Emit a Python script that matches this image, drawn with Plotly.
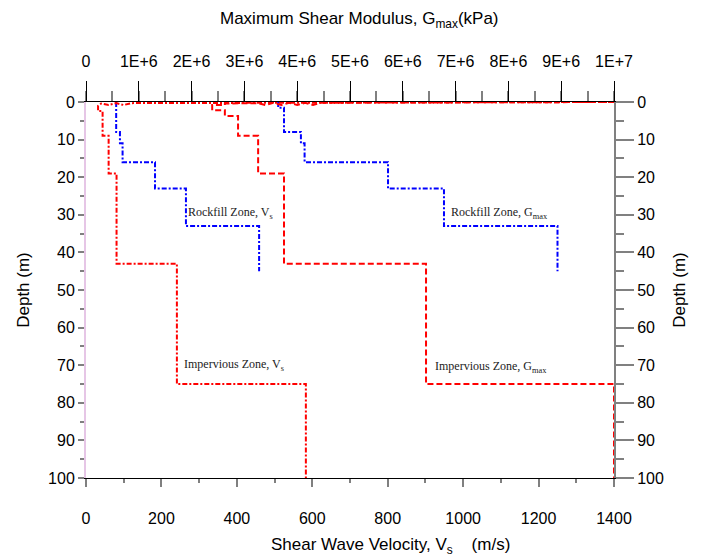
import plotly.graph_objects as go

# ---------------- data ----------------
# Rockfill zone, shear-wave velocity (m/s): layer top depths (m) and values
rockfill_vs_tops = [0, 8, 11, 16, 23, 33]
rockfill_vs_vals = [80, 90, 97, 183, 265, 459]
rockfill_vs_bottom = 45

# Rockfill zone, Gmax (kPa)
rockfill_g_tops = [0, 1.5, 8, 11, 16, 23, 33]
rockfill_g_vals = [3.64e6, 3.75e6, 4.07e6, 4.14e6, 5.72e6, 6.78e6, 8.93e6]
rockfill_g_bottom = 45

# Impervious zone, shear-wave velocity (m/s)
imp_vs_surface_v = [1400, 120, 100, 80, 60, 40]
imp_vs_surface_d = [0, 0.3, 0.8, 0.3, 0.8, 0.4]
imp_vs_tops = [1.0, 2.4, 9, 19, 43, 75]
imp_vs_vals = [32, 44, 60, 81, 241, 583]
imp_vs_bottom = 100

# Impervious zone, Gmax (kPa)
imp_g_surface_g = [1e7, 4.45e6, 4.3e6, 4.15e6, 4.0e6, 3.85e6, 3.7e6, 3.55e6, 3.4e6, 3.25e6, 2.63e6, 2.63e6]
imp_g_surface_d = [0, 0.2, 0.8, 0.2, 0.8, 0.2, 0.8, 0.2, 0.8, 0.3, 0.4, 0.8]
imp_g_tops = [0.8, 2.2, 3.7, 9, 19, 43, 75]
imp_g_vals = [2.39e6, 2.63e6, 2.88e6, 3.26e6, 3.75e6, 6.44e6, 1e7]
imp_g_bottom = 100

vs_ticks = [0, 200, 400, 600, 800, 1000, 1200, 1400]
g_ticks = [0, 1e6, 2e6, 3e6, 4e6, 5e6, 6e6, 7e6, 8e6, 9e6, 1e7]
g_ticktext = ["0", "1E+6", "2E+6", "3E+6", "4E+6", "5E+6", "6E+6", "7E+6", "8E+6", "9E+6", "1E+7"]
depth_ticks = [0, 10, 20, 30, 40, 50, 60, 70, 80, 90, 100]


def staircase(tops, vals, bottom):
    xs, ys = [], []
    for i, v in enumerate(vals):
        nxt = tops[i + 1] if i + 1 < len(tops) else bottom
        xs += [v, v]
        ys += [tops[i], nxt]
    return xs, ys


RED = "#ff0000"
BLUE = "#0000ff"
DASHDOT = "5px,2px,2px,2px"
DASH = "6px,3px"

fig = go.Figure()

x, y = staircase(rockfill_vs_tops, rockfill_vs_vals, rockfill_vs_bottom)
fig.add_trace(go.Scatter(x=x, y=y, mode="lines", xaxis="x", yaxis="y",
                         line=dict(color=BLUE, width=2, dash=DASHDOT)))

x, y = staircase(rockfill_g_tops, rockfill_g_vals, rockfill_g_bottom)
fig.add_trace(go.Scatter(x=x, y=y, mode="lines", xaxis="x2", yaxis="y",
                         line=dict(color=BLUE, width=2, dash=DASHDOT)))

x, y = staircase(imp_vs_tops, imp_vs_vals, imp_vs_bottom)
fig.add_trace(go.Scatter(x=imp_vs_surface_v + x, y=imp_vs_surface_d + y, mode="lines",
                         xaxis="x", yaxis="y",
                         line=dict(color=RED, width=2, dash=DASHDOT)))

x, y = staircase(imp_g_tops, imp_g_vals, imp_g_bottom)
fig.add_trace(go.Scatter(x=imp_g_surface_g + x, y=imp_g_surface_d + y, mode="lines",
                         xaxis="x2", yaxis="y",
                         line=dict(color=RED, width=2, dash=DASH)))

# right-hand depth axis carrier (no visible marks)
fig.add_trace(go.Scatter(x=[0, 0], y=[0, 100], mode="lines", xaxis="x", yaxis="y2",
                         line=dict(color="rgba(0,0,0,0)"), hoverinfo="skip"))

FONT = "Liberation Sans, Arial, sans-serif"
SERIF = "Liberation Serif, Times New Roman, serif"

fig.update_layout(
    width=705, height=556, autosize=False,
    margin=dict(l=86, r=91, t=102, b=78),
    paper_bgcolor="white", plot_bgcolor="white",
    showlegend=False,
    font=dict(family=FONT, size=16, color="black"),
    xaxis=dict(
        range=[0, 1400], tickvals=vs_ticks, showgrid=False, zeroline=False,
        showline=True, linecolor="black", linewidth=1, mirror=False,
        ticks="outside", ticklen=8, tickcolor="#808080", tickwidth=2,
        minor=dict(dtick=100, ticks="outside", ticklen=4, tickcolor="#808080"),
        ticklabelstandoff=18,
    ),
    xaxis2=dict(
        range=[0, 1e7], overlaying="x", side="top", anchor="y",
        tickvals=g_ticks, ticktext=g_ticktext, showgrid=False, zeroline=False,
        showline=True, linecolor="black", linewidth=1,
        ticks="outside", ticklen=20, tickcolor="black", tickwidth=1,
        minor=dict(dtick=5e5, ticks="outside", ticklen=10, tickcolor="#808080", tickwidth=2),
        ticklabelstandoff=8,
    ),
    yaxis=dict(
        range=[100, 0], tickvals=depth_ticks, showgrid=False, zeroline=False,
        showline=True, linecolor="#e6c6e6", linewidth=2,
        ticks="outside", ticklen=6, tickcolor="#808080", tickwidth=2,
        minor=dict(dtick=5, ticks="outside", ticklen=4, tickcolor="#808080"),
        title=dict(text="Depth (m)", font=dict(size=17), standoff=14),
    ),
    yaxis2=dict(
        range=[100, 0], overlaying="y", side="right", anchor="x",
        tickvals=depth_ticks, showgrid=False, zeroline=False,
        showline=True, linecolor="#808080", linewidth=2,
        ticks="outside", ticklen=18, tickcolor="#808080", tickwidth=2,
        minor=dict(dtick=5, ticks="outside", ticklen=8, tickcolor="#808080"),
        title=dict(text="Depth (m)", font=dict(size=17), standoff=10),
    ),
)

# axis titles for the horizontal axes (placed as in the reference)
fig.add_annotation(x=(390 - 86) / 528, y=(478 - 546) / 376, xref="paper", yref="paper",
                   text="Shear Wave Velocity, V<sub>s</sub>&nbsp;&nbsp;&nbsp;&nbsp;(m/s)", showarrow=False,
                   xanchor="center", yanchor="middle", font=dict(family=FONT, size=17))
fig.add_annotation(x=(359 - 86) / 528, y=1 + (102 - 20) / 376, xref="paper", yref="paper",
                   text="Maximum Shear Modulus, G<sub>max</sub>(kPa)", showarrow=False,
                   xanchor="center", yanchor="middle", font=dict(family=FONT, size=17))

ann_font = dict(family=SERIF, size=12, color="#222222")
for txt, xv, yv in [
    ("Rockfill Zone, V<sub>s</sub>", 265, 29.5),
    ("Rockfill Zone, G<sub>max</sub>", 962, 29.5),
    ("Impervious Zone, V<sub>s</sub>", 254, 70),
    ("Impervious Zone, G<sub>max</sub>", 920, 70.5),
]:
    fig.add_annotation(x=xv, y=yv, xref="x", yref="y", text=txt, showarrow=False,
                       xanchor="left", yanchor="middle", font=ann_font)

fig.write_html("out.html")
